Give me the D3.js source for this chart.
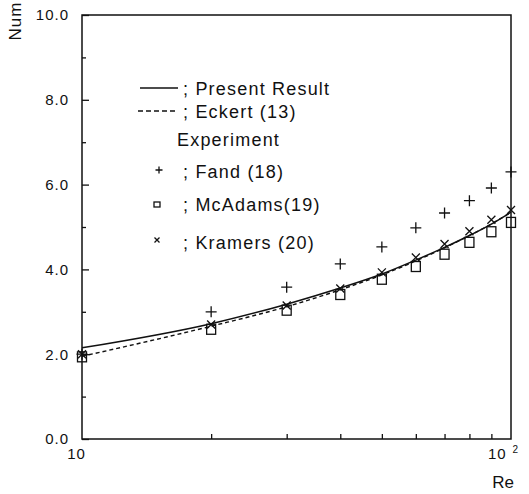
<!DOCTYPE html>
<html>
<head>
<meta charset="utf-8">
<script src="https://cdn.jsdelivr.net/npm/d3@7"></script>
<style>
  body { margin: 0; background: #fff; }
  svg text { font-family: "Liberation Sans", Arial, sans-serif; fill: #111; }
</style>
</head>
<body>
<div id="chart"></div>
<script>
// Values
const reValues      = [10, 20, 30, 40, 50, 60, 70, 80, 90, 100];
const presentResult = [2.15, 2.72, 3.18, 3.56, 3.89, 4.22, 4.52, 4.80, 5.07, 5.35];
const eckert        = [1.95, 2.66, 3.12, 3.52, 3.87, 4.20, 4.51, 4.80, 5.07, 5.35];
const fand          = [2.00, 3.00, 3.58, 4.13, 4.53, 4.98, 5.33, 5.62, 5.92, 6.30];
const mcAdams       = [1.95, 2.60, 3.05, 3.42, 3.78, 4.08, 4.37, 4.65, 4.90, 5.12];
const kramers       = [2.00, 2.70, 3.15, 3.55, 3.93, 4.28, 4.60, 4.90, 5.17, 5.40];

const yMajorTicks = [0, 2, 4, 6, 8, 10];
const yMinorTicks = [1, 3, 5, 7, 9];
const xMinorTicks = [20, 30, 40, 50, 60, 70, 80, 90];
const xLabelTicks = [10, 100];

const width = 529, height = 494;
const margin = { top: 15, right: 18, bottom: 55, left: 82 };

const svg = d3.select("#chart")
    .append("svg")
    .attr("width", width)
    .attr("height", height);

const x = d3.scaleLog().domain([10, 100]).range([margin.left, width - margin.right]);
const y = d3.scaleLinear().domain([0, 10]).range([height - margin.bottom, margin.top]);

const ink = "#111";

// frame
svg.append("rect")
    .attr("x", x(10)).attr("y", y(10))
    .attr("width", x(100) - x(10)).attr("height", y(0) - y(10))
    .attr("fill", "none").attr("stroke", ink).attr("stroke-width", 1.5);

// left axis, ticks pointing inward
const yAxisMajor = svg.append("g")
    .attr("transform", `translate(${x(10)},0)`)
    .call(d3.axisLeft(y).tickValues(yMajorTicks).tickSize(-7).tickSizeOuter(0)
        .tickPadding(13).tickFormat(d3.format(".1f")));
const yAxisMinor = svg.append("g")
    .attr("transform", `translate(${x(10)},0)`)
    .call(d3.axisLeft(y).tickValues(yMinorTicks).tickSize(-4).tickSizeOuter(0).tickFormat(""));

// bottom axis
const xAxisMinor = svg.append("g")
    .attr("transform", `translate(0,${y(0)})`)
    .call(d3.axisBottom(x).tickValues(xMinorTicks).tickSize(-5).tickSizeOuter(0).tickFormat(""));
const xAxisLabels = svg.append("g")
    .attr("transform", `translate(0,${y(0)})`)
    .call(d3.axisBottom(x).tickValues(xLabelTicks).tickSize(0).tickSizeOuter(0)
        .tickPadding(9).tickFormat(d => d === 100 ? "10" : String(d)));

[yAxisMajor, yAxisMinor, xAxisMinor, xAxisLabels].forEach(g => {
    g.select(".domain").remove();
    g.selectAll("line").attr("stroke", ink).attr("stroke-width", 1.3);
    g.selectAll("text").style("font-size", "15px").attr("fill", ink)
        .style("letter-spacing", "1px")
        .style("font-family", "'Liberation Sans', Arial, sans-serif");
});

xAxisLabels.selectAll(".tick").filter(d => d === 10).select("text").attr("dx", "-6");

// 10^2 label gets its superscript
xAxisLabels.selectAll(".tick").filter(d => d === 100).select("text")
    .attr("dx", "-8")
    .append("tspan")
    .attr("dx", "6").attr("dy", "-6")
    .style("font-size", "10px")
    .text("2");

// axis titles
svg.append("text")
    .attr("transform", "translate(21,21) rotate(-90)")
    .attr("text-anchor", "middle")
    .style("font-size", "17px")
    .style("letter-spacing", "1px")
    .text("Num");

svg.append("text")
    .attr("x", x(100) - 8).attr("y", 488)
    .attr("text-anchor", "middle")
    .style("font-size", "17px")
    .text("Re");

// curves
const series = reValues.map((r, i) => ({
    re: r, present: presentResult[i], eckert: eckert[i],
    fand: fand[i], mcAdams: mcAdams[i], kramers: kramers[i]
}));

const lineFor = key => d3.line()
    .x(d => x(d.re))
    .y(d => y(d[key]))
    .curve(d3.curveMonotoneX);

svg.append("path")
    .datum(series)
    .attr("d", lineFor("eckert"))
    .attr("fill", "none").attr("stroke", ink).attr("stroke-width", 1.4)
    .attr("stroke-dasharray", "4,3");

svg.append("path")
    .datum(series)
    .attr("d", lineFor("present"))
    .attr("fill", "none").attr("stroke", ink).attr("stroke-width", 1.5);

// marker shapes
function plusPath(s) { return `M${-s},0H${s}M0,${-s}V${s}`; }
function crossPath(s) { return `M${-s},${-s}L${s},${s}M${s},${-s}L${-s},${s}`; }

svg.selectAll(".fand").data(series).enter()
    .append("path").attr("class", "fand")
    .attr("transform", d => `translate(${x(d.re)},${y(d.fand)})`)
    .attr("d", plusPath(5.5))
    .attr("stroke", ink).attr("stroke-width", 1.3).attr("fill", "none");

svg.selectAll(".mcadams").data(series).enter()
    .append("rect").attr("class", "mcadams")
    .attr("x", d => x(d.re) - 4.5).attr("y", d => y(d.mcAdams) - 4.5)
    .attr("width", 9).attr("height", 10)
    .attr("stroke", ink).attr("stroke-width", 1.3).attr("fill", "none");

svg.selectAll(".kramers").data(series).enter()
    .append("path").attr("class", "kramers")
    .attr("transform", d => `translate(${x(d.re)},${y(d.kramers)})`)
    .attr("d", crossPath(4))
    .attr("stroke", ink).attr("stroke-width", 1.3).attr("fill", "none");

// legend
const legend = svg.append("g")
    .style("font-size", "18px")
    .style("letter-spacing", "1.2px");

legend.append("line").attr("x1", 140).attr("x2", 178).attr("y1", 88).attr("y2", 88)
    .attr("stroke", ink).attr("stroke-width", 1.4);
legend.append("text").attr("x", 183).attr("y", 95).text("; Present  Result");

legend.append("line").attr("x1", 138).attr("x2", 178).attr("y1", 111).attr("y2", 111)
    .attr("stroke", ink).attr("stroke-width", 1.4).attr("stroke-dasharray", "5,3");
legend.append("text").attr("x", 183).attr("y", 118).text("; Eckert (13)");

legend.append("text").attr("x", 177).attr("y", 146).text("Experiment");

legend.append("path").attr("transform", "translate(159,170)").attr("d", plusPath(3.5))
    .attr("stroke", ink).attr("stroke-width", 1.3);
legend.append("text").attr("x", 183).attr("y", 178).text("; Fand (18)");

legend.append("rect").attr("x", 154).attr("y", 202).attr("width", 6).attr("height", 5)
    .attr("stroke", ink).attr("stroke-width", 1.3).attr("fill", "none");
legend.append("text").attr("x", 183).attr("y", 211).text("; McAdams(19)");

legend.append("path").attr("transform", "translate(157,240)").attr("d", crossPath(2.5))
    .attr("stroke", ink).attr("stroke-width", 1.3);
legend.append("text").attr("x", 183).attr("y", 249).text("; Kramers (20)");
</script>
</body>
</html>
